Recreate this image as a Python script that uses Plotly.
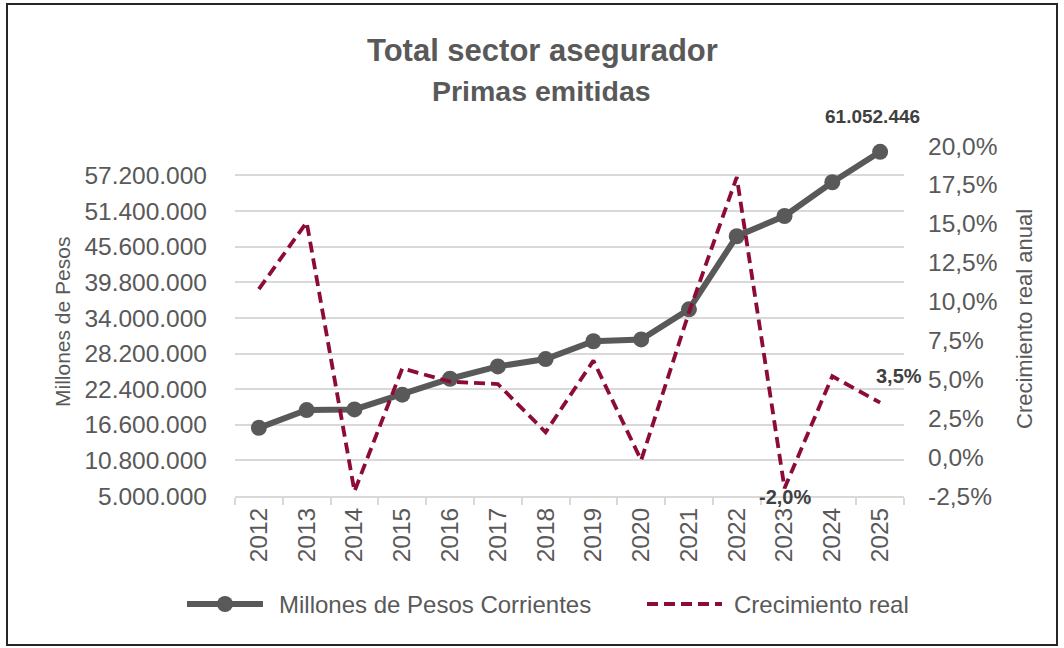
import plotly.graph_objects as go

years = ["2012", "2013", "2014", "2015", "2016", "2017", "2018", "2019",
         "2020", "2021", "2022", "2023", "2024", "2025"]
primas = [16100000, 19000000, 19100000, 21500000, 24100000, 26100000, 27300000,
          30200000, 30500000, 35400000, 47300000, 50600000, 56100000, 61052446]
crecimiento_pct = [10.8, 15.1, -2.2, 5.7, 4.85, 4.7, 1.6, 6.2, -0.2, 9.3, 18.0,
                   -2.0, 5.2, 3.5]
left_ticks = [5000000, 10800000, 16600000, 22400000, 28200000, 34000000,
              39800000, 45600000, 51400000, 57200000]
right_ticks_pct = [-2.5, 0.0, 2.5, 5.0, 7.5, 10.0, 12.5, 15.0, 17.5, 20.0]

crecimiento = [v / 100 for v in crecimiento_pct]
right_tickvals = [v / 100 for v in right_ticks_pct]
right_ticktext = [f"{v:.1f}%".replace(".", ",") for v in right_ticks_pct]

GRAY = "#595959"
RED = "#8C0B3B"
TXT = "#595959"
LAB = "#404040"

W, H = 1064, 648
L, R, T, B = 235, 904, 146, 496
PW, PH = R - L, B - T


def px(x):
    return (x - L) / PW


def py(y):
    return (B - y) / PH


i_last = len(years) - 1
i_2023 = years.index("2023")

fig = go.Figure()
fig.add_trace(go.Scatter(
    x=years, y=primas, mode="lines+markers", name="Millones de Pesos Corrientes",
    line=dict(color=GRAY, width=6), marker=dict(size=16, color=GRAY),
    yaxis="y", showlegend=False, cliponaxis=False))
fig.add_trace(go.Scatter(
    x=years, y=crecimiento, mode="lines", name="Crecimiento real",
    line=dict(color=RED, width=3.8, dash="11px,6px"),
    yaxis="y2", showlegend=False, cliponaxis=False))

font_main = "Liberation Sans, Arial, sans-serif"
TICK = 24.5

annotations = [
    dict(text="<b>Total sector asegurador</b>", x=px(542), y=py(50), xref="paper", yref="paper",
         showarrow=False, xanchor="center", yanchor="middle",
         font=dict(family=font_main, size=31, color=TXT)),
    dict(text="<b>Primas emitidas</b>", x=px(541), y=py(91), xref="paper", yref="paper",
         showarrow=False, xanchor="center", yanchor="middle",
         font=dict(family=font_main, size=28.5, color=TXT)),
    dict(text="Millones de Pesos", x=px(62), y=py(322), xref="paper", yref="paper",
         showarrow=False, textangle=-90, xanchor="center", yanchor="middle",
         font=dict(family=font_main, size=21, color=TXT)),
    dict(text="Crecimiento real anual", x=px(1024), y=py(319), xref="paper", yref="paper",
         showarrow=False, textangle=-90, xanchor="center", yanchor="middle",
         font=dict(family=font_main, size=22, color=TXT)),
    # data labels
    dict(text="<b>61.052.446</b>", x=i_last, y=primas[-1], xref="x", yref="y",
         showarrow=False, xshift=-8, yshift=35, xanchor="center", yanchor="middle",
         font=dict(family=font_main, size=19, color=LAB)),
    dict(text="<b>3,5%</b>", x=i_last, y=crecimiento[-1], xref="x", yref="y2",
         showarrow=False, xshift=19, yshift=27, xanchor="center", yanchor="middle",
         font=dict(family=font_main, size=20, color=LAB)),
    dict(text="<b>-2,0%</b>", x=i_2023, y=crecimiento[i_2023], xref="x", yref="y2",
         showarrow=False, xshift=0, yshift=-9, xanchor="center", yanchor="middle",
         font=dict(family=font_main, size=20, color=LAB)),
    # legend texts
    dict(text="Millones de Pesos Corrientes", x=px(277), y=py(604), xref="paper", yref="paper",
         showarrow=False, xanchor="left", yanchor="middle",
         font=dict(family=font_main, size=24, color=TXT)),
    dict(text="Crecimiento real", x=px(732), y=py(604), xref="paper", yref="paper",
         showarrow=False, xanchor="left", yanchor="middle",
         font=dict(family=font_main, size=24, color=TXT)),
]

shapes = [
    # outer border
    dict(type="rect", xref="paper", yref="paper", x0=px(7), x1=px(1057), y0=py(645), y1=py(4),
         line=dict(color="#262626", width=2), fillcolor="rgba(0,0,0,0)", layer="above"),
    # legend glyphs
    dict(type="line", xref="paper", yref="paper", x0=px(187), x1=px(263), y0=py(604), y1=py(604),
         line=dict(color=GRAY, width=6)),
    dict(type="circle", xref="paper", yref="paper", x0=px(217), x1=px(233), y0=py(612), y1=py(596),
         line=dict(color=GRAY, width=0), fillcolor=GRAY),
    dict(type="line", xref="paper", yref="paper", x0=px(647), x1=px(722), y0=py(604), y1=py(604),
         line=dict(color=RED, width=3.8, dash="11px,6px")),
]

fig.update_layout(
    width=W, height=H,
    margin=dict(l=L, r=W - R, t=T, b=H - B, autoexpand=False),
    paper_bgcolor="white", plot_bgcolor="white",
    separators=",.",
    showlegend=False,
    font=dict(family=font_main, color=TXT),
    annotations=annotations, shapes=shapes,
    xaxis=dict(type="category", range=[-0.5, 13.5], showgrid=False,
               showline=True, linecolor="#d9d9d9", linewidth=2,
               ticks="outside", tickson="boundaries", ticklen=7, tickcolor="#d9d9d9", tickwidth=2,
               tickangle=-90, tickfont=dict(size=TICK, color=TXT, family=font_main)),
    yaxis=dict(range=[5000000, 62000000], tickvals=left_ticks, tickformat=",.0f",
               showgrid=True, gridcolor="#d9d9d9", gridwidth=2, zeroline=False,
               showline=False, ticks="", ticklabelstandoff=27,
               tickfont=dict(size=TICK, color=TXT, family=font_main)),
    yaxis2=dict(range=[-0.025, 0.20], tickvals=right_tickvals, ticktext=right_ticktext,
                overlaying="y", side="right", showgrid=False, zeroline=False,
                showline=False, ticks="", ticklabelstandoff=23,
                tickfont=dict(size=TICK, color=TXT, family=font_main)),
)

fig.write_html("out.html", config={"displayModeBar": False},
               post_script="document.body.style.margin='0px';document.body.style.overflow='hidden';")
